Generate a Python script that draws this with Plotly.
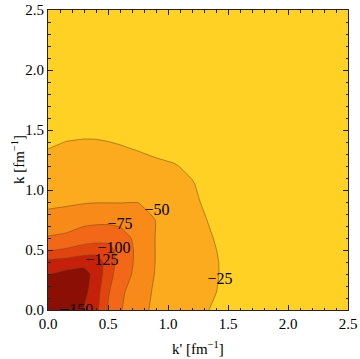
import plotly.graph_objects as go

# grid coordinates (fm^-1)
k_prime = [0, 0.15, 0.3, 0.4, 0.5, 0.6, 0.75, 0.9, 1.05, 1.2, 1.35, 1.5, 2.0, 2.5]
k_vals = [0, 0.15, 0.3, 0.4, 0.5, 0.6, 0.75, 0.9, 1.05, 1.2, 1.35, 1.5, 2.0, 2.5]

# potential values V(k', k), one row per k value
row_k000 = [-185, -174, -149, -132, -98, -77, -59, -44, -36.5, -30, -24.7, -19.5, -8, -3]
row_k015 = [-174, -180, -157, -136, -103, -80, -62, -46, -37.5, -31.5, -27, -21.5, -8.5, -3.2]
row_k030 = [-149, -157, -160, -141, -112, -86, -69, -48, -38.5, -32.5, -28, -22, -9, -3.4]
row_k040 = [-132, -136, -141, -137, -116, -89, -70, -49, -39, -32.5, -27.8, -22, -9, -3.4]
row_k050 = [-98, -103, -112, -116, -112, -90, -70, -49, -39, -32, -27, -21.5, -9, -3.4]
row_k060 = [-77, -80, -86, -89, -90, -86, -68, -49, -38.5, -31.5, -26, -20.5, -8.5, -3.3]
row_k075 = [-59, -62, -69, -70, -70, -68, -62, -49.5, -37.5, -30, -24, -19, -8, -3.2]
row_k090 = [-44, -46, -48, -49, -49, -49, -49.5, -45, -35, -27.5, -22, -17, -7.5, -3]
row_k105 = [-36.5, -37.5, -38.5, -39, -39, -38.5, -37.5, -35, -33, -26, -19.5, -15.5, -7, -2.8]
row_k120 = [-30, -31.5, -32.5, -32.5, -32, -31.5, -30, -27.5, -26, -22, -17.5, -14, -6.5, -2.6]
row_k135 = [-24.7, -27, -28, -27.8, -27, -26, -24, -22, -19.5, -17.5, -16, -13, -6, -2.4]
row_k150 = [-19.5, -21.5, -22, -22, -21.5, -20.5, -19, -17, -15.5, -14, -13, -12, -5.5, -2.2]
row_k200 = [-8, -8.5, -9, -9, -9, -8.5, -8, -7.5, -7, -6.5, -6, -5.5, -4, -2]
row_k250 = [-3, -3.2, -3.4, -3.4, -3.4, -3.3, -3.2, -3, -2.8, -2.6, -2.4, -2.2, -2, -1.5]

z_rows = [row_k000, row_k015, row_k030, row_k040, row_k050, row_k060, row_k075,
          row_k090, row_k105, row_k120, row_k135, row_k150, row_k200, row_k250]

# contour levels
level_start = -150
level_end = -25
level_step = 25

# contour labels
label_text = ["\u2212150", "\u2212125", "\u2212100", "\u221275", "\u221250", "\u221225"]
label_kp = [0.24, 0.45, 0.55, 0.60, 0.908, 1.433]
label_k = [-0.012, 0.41, 0.508, 0.708, 0.825, 0.25]

tick_vals = [0.0, 0.5, 1.0, 1.5, 2.0, 2.5]
tick_text = ["0.0", "0.5", "1.0", "1.5", "2.0", "2.5"]

band_colors = ["#8C0F05", "#C6200A", "#E2440F", "#F26718", "#F88A1A", "#FCAA1E", "#FFD124"]
n = len(band_colors) - 1
colorscale = [[i / n, c] for i, c in enumerate(band_colors)]

serif = "'Liberation Serif', 'Times New Roman', serif"

fig = go.Figure()
fig.add_trace(go.Contour(
    x=k_prime, y=k_vals, z=z_rows,
    autocontour=False,
    contours=dict(start=level_start, end=level_end, size=level_step, coloring="fill"),
    colorscale=colorscale,
    showscale=False,
    line=dict(color="rgba(110,80,20,0.55)", width=1, smoothing=0.35),
    hoverinfo="skip",
))
fig.add_trace(go.Scatter(
    x=label_kp, y=label_k, mode="text", text=label_text,
    textposition="middle center",
    textfont=dict(family=serif, size=16, color="black"),
    cliponaxis=True, hoverinfo="skip", showlegend=False,
))

axis_common = dict(
    range=[0, 2.5], tickvals=tick_vals, ticktext=tick_text, automargin=False,
    ticks="inside", ticklen=5, tickwidth=1, tickcolor="#222",
    showline=True, linecolor="#222", linewidth=1, mirror="allticks",
    showgrid=False, zeroline=False,
    tickfont=dict(family=serif, size=15, color="black"),
    minor=dict(dtick=0.1, ticks="inside", ticklen=2.5, tickcolor="#222", showgrid=False),
)
fig.update_xaxes(**axis_common)
fig.update_yaxes(**axis_common)

fig.update_layout(
    width=360, height=359,
    margin=dict(l=48, r=12, t=10, b=49, autoexpand=False),
    paper_bgcolor="white", plot_bgcolor="white",
    showlegend=False,
    annotations=[
        dict(text="k' [fm<sup>\u22121</sup>]", xref="paper", yref="paper", x=0.5, y=0,
             yshift=-38, showarrow=False, yanchor="middle",
             font=dict(family=serif, size=15, color="black")),
        dict(text="k [fm<sup>\u22121</sup>]", xref="paper", yref="paper", x=0, y=0.5,
             xshift=-30, showarrow=False, textangle=-90, xanchor="center",
             font=dict(family=serif, size=15, color="black")),
    ],
)
fig.write_html("out.html", config={"displayModeBar": False, "staticPlot": True},
               post_script="document.body.style.margin='0';document.body.style.padding='0';")
